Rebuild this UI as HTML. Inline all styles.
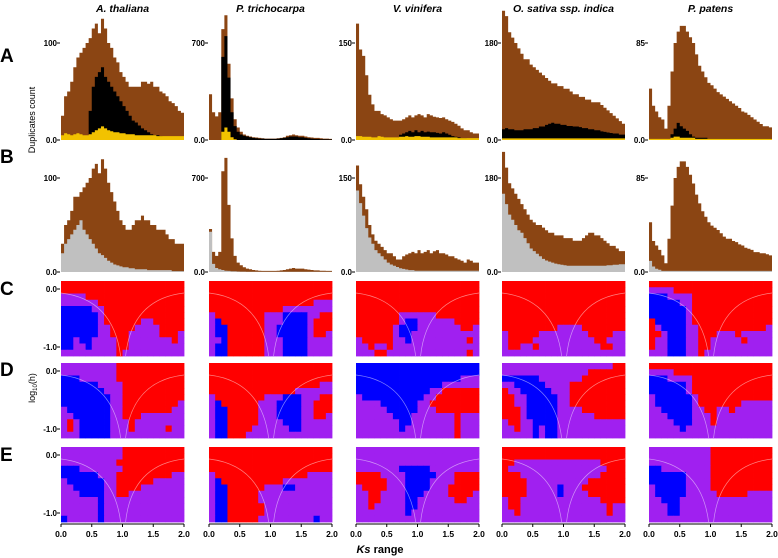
<!DOCTYPE html>
<html><head><meta charset="utf-8"><style>
body{margin:0;background:#fff;}
svg{display:block;font-family:"Liberation Sans","DejaVu Sans",sans-serif;}
</style></head><body>
<svg id="chart" width="778" height="558" viewBox="0 0 778 558" xmlns="http://www.w3.org/2000/svg"></svg>
<script>
const species = ["A. thaliana","P. trichocarpa","V. vinifera","O. sativa ssp. indica","P. patens"];
const tickVals = [100,700,150,180,85];
const xTicks = ["0.0","0.5","1.0","1.5","2.0"];
const aBrown = [
[25,45,50,60,75,85,90,95,100,105,115,120,110,125,115,100,95,85,80,70,65,60,55,55,55,55,60,60,58,60,55,55,50,48,45,40,38,35,30,28],
[330,200,170,200,800,900,550,300,150,90,60,40,30,25,20,18,15,12,10,10,10,10,12,15,20,30,35,40,35,30,30,25,20,18,15,15,12,10,10,8],
[180,140,130,100,70,55,45,45,40,38,35,32,30,30,30,32,35,38,35,38,40,38,35,40,38,36,35,34,35,32,30,28,25,22,18,15,15,12,10,10],
[240,230,200,190,180,170,160,150,150,140,135,130,125,120,115,110,105,105,100,100,95,95,90,85,85,80,80,75,75,70,70,70,65,60,55,50,45,40,35,30],
[45,30,25,20,18,10,30,60,85,95,100,100,95,90,85,75,65,60,55,50,48,45,42,40,38,36,34,32,30,28,25,24,22,20,18,16,14,12,12,11]];
const aBlack = [
[0,0,0,0,0,0,0,0,0,30,55,65,70,75,65,60,55,50,45,40,35,30,25,20,18,15,12,10,8,6,5,5,4,3,3,2,2,2,2,2],
[0,0,0,0,600,750,450,200,100,60,40,30,25,20,15,12,10,10,8,8,8,8,10,12,15,20,25,25,25,20,20,15,12,10,8,8,6,5,5,4],
[0,0,0,0,0,0,0,0,0,0,0,0,0,0,8,10,12,14,12,15,12,14,12,13,12,12,11,10,12,10,8,6,5,4,3,3,2,2,2,2],
[20,22,20,20,18,18,18,20,20,20,22,22,25,25,28,30,32,30,30,28,28,26,26,25,25,24,22,22,20,20,18,18,16,15,14,13,12,12,10,10],
[0,0,0,0,0,0,0,5,10,15,12,10,8,5,3,2,2,2,2,1,1,1,1,1,1,1,1,1,1,1,1,1,1,1,1,1,1,1,1,1]];
const aYellow = [
[5,7,6,5,6,7,6,5,5,6,8,10,12,14,12,10,9,8,8,7,7,6,6,6,5,5,5,5,5,5,5,4,4,4,4,4,4,4,4,4],
[0,0,0,0,60,90,60,20,5,0,0,0,0,0,0,0,0,0,0,0,0,0,0,0,0,0,0,0,0,0,0,0,0,0,0,0,0,0,0,0],
[6,6,5,5,5,4,4,6,5,4,4,4,4,4,5,5,6,5,5,6,6,5,5,5,4,4,4,4,4,4,4,4,4,3,3,3,3,3,3,3],
[3,3,3,3,3,3,3,3,3,3,3,3,3,3,3,3,3,3,3,3,3,3,3,3,3,3,3,3,3,3,3,3,3,3,3,3,3,3,3,3],
[1,1,1,1,1,1,1,2,3,3,2,2,2,2,2,1,1,1,1,1,1,1,1,1,1,1,1,1,1,1,1,1,1,1,1,1,1,1,1,1]];
const bBrown = [
[30,50,55,65,80,80,85,90,95,100,110,115,105,120,110,95,85,75,65,55,50,45,45,50,55,55,60,55,55,50,50,45,45,45,40,35,35,30,30,30],
[320,150,120,150,750,850,500,250,120,70,50,35,25,20,15,12,10,8,8,8,8,8,10,12,15,20,25,30,25,25,25,20,18,15,12,12,10,10,8,8],
[170,140,120,100,75,60,50,45,40,35,30,30,25,20,20,25,28,30,32,30,35,30,32,35,30,33,35,30,30,28,25,25,22,20,18,15,20,18,15,15],
[230,200,170,160,150,140,130,120,110,100,95,90,90,85,80,75,75,70,70,70,65,65,65,60,60,60,65,70,75,75,70,70,65,60,55,50,50,45,40,40],
[45,28,24,20,15,8,30,60,85,95,100,100,95,88,80,70,62,55,50,45,42,40,38,35,32,30,30,28,27,25,24,22,21,20,18,18,17,17,16,15]];
const bGray = [
[20,30,35,40,45,50,55,45,40,35,30,25,20,18,15,12,10,8,7,6,5,5,4,4,3,3,3,3,2,2,2,2,2,2,2,2,1,1,1,1],
[300,60,30,20,15,10,8,6,5,4,3,3,2,2,2,2,2,2,2,2,2,2,2,2,2,2,2,2,2,2,2,2,2,2,2,2,2,2,2,2],
[130,110,90,70,55,45,35,30,25,20,15,12,10,8,6,5,4,3,3,2,2,2,2,2,2,2,2,2,2,2,2,2,2,2,2,2,2,2,2,2],
[150,130,110,100,90,80,75,65,55,45,40,35,30,25,22,20,18,16,15,14,13,12,12,12,12,12,12,12,12,12,12,12,12,12,13,13,14,14,15,15],
[10,5,3,2,1,1,1,1,1,1,1,1,1,1,1,1,1,1,1,1,1,1,1,1,1,1,1,1,1,1,1,1,1,1,1,1,1,1,1,1]];
const heatC = [
["rrrrrrrrrrrrrrrrrrrr","rrrrrrrrrrrrrrrrrrrr","pppprrrrrrrrrrrrrrrr","pppppprrrrrrrrrrrrrr","bbbbbpprrrrrrrrrrrrr","bbbbbbprrrrrrrrrrrrr","bbbbbbprrrrrrpprrrrr","bbbbbbpprrrrpppprrrr","bbbbbbpprrrppppprrrp","bbpbbpppprrppppppprp","bbppbpppprrppppppppp","ppppppppprpppppppppp"],
["rrrrrrrrrrrrrrrrrrrr","rrrrrrrrrrrrrrrrrrrr","rrrrrrrrrrrrrrrrrrrr","rrrrrrrrrrrrrrrrrppp","rrrrrrrrrrrrpppppppp","prrrrrrrrpppbbbbpprr","pbrrrrrrrpppbbbbprrr","pbbrrrrrrppbbbbbprrr","pbbrrrrrrppbbbbbprrp","ppbrrrrrrpppbbbbpppp","pbbrrrrrrpppbbbbpppp","pbbrrrrrrpppbbbbpppp"],
["rrrrrrrrrrrrrrrrrrrr","rrrrrrrrrrrrrrrrrrrr","rrrrrrrrrrrrrrrrrrrr","rrrrrrrrrrrrrrrrrrrr","rrrrrrrrrrrrrrrrrrrr","rrrrrrrpppppprrrrrrr","rrrrrrrpbbpppppprrrr","rrrrrrpbbbppppppprrp","rrrrrrpbbppppppppppp","prrrrrppbppppppppprp","pprpprpppppppppppppp","ppprrppppppppppppprp"],
["rrrrrrrrrrrrrrrrrrrr","rrrrrrrrrrrrrrrrrrrr","rrrrrrrrrrrrrrrrrrrr","rrrrrrrrrrrrrrrrrrrr","rrrrrrrrrrrrrrrrrrrr","rrrrrrrrrrrrrrrrrrrr","rrrrrrrrrrrrrrrrrrrr","rrrrrrrrrpppprrrrrrr","prrrrrpppppppprrrrpp","prrrrpppppppppprrppp","prrpprpppppppppprrpp","pppppppppppppppppppp"],
["rrrrrrrrrrrrrrrrrrrr","pppprrrrrrrrrrrrrrrr","bbbpppprrrrrrrrrrrrr","bbbbbpprrrrrrrrrrrrr","bbbbbbprrrrrrrrrrrrr","bbbbbbprrrrrrrrrrrrr","rbbbbbprrrrrrrrrrrrr","rpbbbbpprrrrrrrrrrrp","rrpbbbpprrrppprppppp","rppbbbpprrppppprpppp","rppbbbpprrpppppppppp","pppbbbpprppppppppppp"]];
const heatD = [
["ppppppppprrrrrrrrrrr","ppppppppprrrrrrrrrrr","bbbpppppprrrrrrrrrrr","bbbbbbpppprrrrrrrrrr","bbbbbbbppprrrrrrrrrr","bbbbbbbbpprrrrrrrrrr","bbbbbbbbpprrrrrrrrrp","pbbbbbbbpprrrrrrrrpp","ppbbbbbbpprrrppppppp","prpbbbbbppprpppppppp","prpbbbbbppprppppprpp","pppbbbbbpppppppppppp"],
["rrrrrrrrrrrrrrrrrrrr","rrrrrrrrrrrrrrrrrrrr","rrrrrrrrrrrrrrrrrrrr","rrrrrrrrrrrrrrrrrrpp","rrrrrrrrrrrrrrpppppp","prrrrrrrrpppbbbppprr","pbrrrrrrpppbbbbpprrr","pbbrrrrrpppbbbbpprrr","pbbrrrrrpppbbbbpprrp","pbbrrrrrppppbbbppppp","pbbrrrrppppppbbppppp","pbbrrrpppppppppppppp"],
["bbbbbbbbbbbbbbbbbbbb","bbbbbbbbbbbbbbbbbbbb","bbbbbbbbbbbbbbbbbppp","bbbbbbbbbbbbbbpppppp","bbbbbbbbbbbbpprrrrrr","pbbbbbbbbbbpprrrrrrr","ppppbbbbbbpprrrrrrrr","pppppbbbbbppprrrrrrr","ppppppbbbppppppprppp","pppppppbbppppppprppp","pppppppbpppppppprppp","pppppppppppppppprppp"],
["pppppppppppppppppprr","pppppppppppppprrrrrr","bbbbbbppppppprrrrrrr","ppbbbbbpppprrrrrrrrr","rppbbbbbppprrrrrrrrr","rrppbbbbbpprrrrrrrrr","rrppbbbbbpprrrrrrrrr","rrrpbbbbbpppprrrrrrr","rrrpbbbbbpppppprrrrr","prrppbbbbppppppppppp","pprppbpbbppppppppppp","pppppbpbbppppppppppp"],
["rrrrrrrrrrrrrrrrrrrr","pppprrrrrrrrrrrrrrrr","bbbpppprrrrrrrrrrrrr","bbbbbbprrrrrrrrrrrrr","bbbbbbprrrrrrrrrrrrr","pbbbbbbprrrrrrrrrrrr","pbbbbbbprrrrrrrppppp","ppbbbbbpprrpprpppppp","pppbbbbppprppppppppp","ppppbbbppprppppppppp","pppppbpppppppppppppp","pppppppppppppppppppp"]];
const heatE = [
["pppppppppprrrrrrrrrr","pppppppppprrrrrrrrrr","ppppppppprrrrrrrrrrr","bbbppppppprrrrrrrrrr","bbbbbbppprrrrrrrrrpp","pbbbbbbpprrrrrrppppp","ppbbbbbpprrrrppppppp","pppbbbbpprrppppppppp","ppppppbppppppppppppp","ppppppbppppppppppppp","ppppppbppppppppppppp","bpppppbppppppppppppp"],
["rrrrrrrrrrrrrrrrrrrr","rrrrrrrrrrrrrrrrrrrr","rrrrrrrrrrrrrrrrrrrr","rrrrrrrrrrrrrrrrrrrr","prrrrrrrrrrrrrrrpppp","pbrrrrrrrrrrpppppppp","pbbrrrrrrpppbbpppppp","pbbrrrrrpppppppppppp","pbbrrrrrpppppppppppp","pbbrrrrrrppppppppppp","pbbrrrrrrppppppppppp","pbbrrrrrpppppppppbpp"],
["pppppppppppppppppppp","pppppppppppppppppppp","pppppppppppppppppppp","pppppppbbbbbpppppppp","rrrrppppbbbbbppprrrr","rrrrrpppbbbbpppprrrr","prrrrpppbbbbppprrrrr","pprrppppbbbpppprrrrp","pprrppppbbpppppprrpp","pprpppppbbpppppppppp","ppppppppbppppppppppp","pppppppppppppppppppp"],
["rrrrrrrrrrrrrrrrrrrr","rrrrrrrrrrrrrrrrrrrr","rrpppppppppppppprrrr","rpppppppppppppppprrr","rrrppppppppppppprrrr","rrrrpppppppppprrrrrr","rrrrpppppbppprrrrrrr","rrrrpppppbpppprrrrrr","prrppppppppppppprrrr","prrpppppppppppppprpp","pprpppppppppppppprpp","pppppppppppppppppppp"],
["pppppppppprrrrrrrrrr","pppppppppprrrrrrrrrr","pppppppppprrrrrrrrrr","bbpppppppprrrrrrrrrr","bbbbbbpppprrrrrrrrrr","bbbbbbpppprrrrrrrrrr","pbbbbbpppprrrrrrrrrr","pbbbbbppppprrrrrpppp","ppbbbppppppppppppppp","pppbbppppppppppppppp","pppbbppppppppppppppp","pppppppppppppppppppp"]];

const NS="http://www.w3.org/2000/svg";
const svg=document.getElementById('chart');
function mk(tag,attrs,parent){const e=document.createElementNS(NS,tag);for(const k in attrs)e.setAttribute(k,attrs[k]);(parent||svg).appendChild(e);return e;}
const colX=[61,209,356,502,649], PW=123;
const COLORS={r:"#ff0000",p:"#a020f0",b:"#0000ff"};
const xScale=(c,ks)=>colX[c]+ks/2*PW;

function histRow(c,base,tickY,series,colors,names){
  const sc=v=>base-(v/tickVals[c])*(base-tickY);
  series.forEach((arr,si)=>{
    const n=arr.length,bw=PW/n;
    let d="M"+colX[c]+","+base;
    arr.forEach((v,i)=>{const y=Math.max(sc(v),2);d+=" L"+(colX[c]+i*bw).toFixed(2)+","+y.toFixed(1)+" L"+(colX[c]+(i+1)*bw).toFixed(2)+","+y.toFixed(1);});
    d+=" L"+(colX[c]+PW)+","+base+" Z";
    const p=mk('path',{d:d,fill:colors[si]});
    
    
  });
  const lab=[["0.0",base],[String(tickVals[c]),tickY]];
  lab.forEach(([t,y])=>{
    mk('line',{x1:colX[c]-4,x2:colX[c]-1,y1:y,y2:y,stroke:"#000","stroke-width":1});
    const tx=mk('text',{x:colX[c]-4,y:y+3,"font-size":8,"font-weight":"bold","text-anchor":"end"});
    tx.textContent=t;
    
    
  });
}
function heat(c,top,grid){
  const rows=grid.length,cols=grid[0].length,cw=PW/cols,ch=75/rows;
  grid.forEach((row,ri)=>{for(let ci=0;ci<cols;ci++){
    const r=mk('rect',{x:(colX[c]+ci*cw).toFixed(2),y:(top+ri*ch).toFixed(2),width:(cw+0.4).toFixed(2),height:(ch+0.4).toFixed(2),fill:COLORS[row[ci]]});
    
    
  }});
  const arc1="M"+colX[c]+","+(top+12)+" Q"+xScale(c,0.85)+","+(top+18)+" "+xScale(c,0.97)+","+(top+75);
  const arc2="M"+xScale(c,1.05)+","+(top+75)+" Q"+xScale(c,1.15)+","+(top+18)+" "+(colX[c]+PW)+","+(top+12);
  [arc1,arc2].forEach(d=>{const a=mk('path',{d:d,fill:"none",stroke:"#fff","stroke-width":0.7,opacity:0.5});
    
    });
  if(c===0){
    [["0.0",top+8],["-1.0",top+66]].forEach(([t,y])=>{
      mk('line',{x1:colX[c]-4,x2:colX[c]-1,y1:y,y2:y,stroke:"#000","stroke-width":1});
      const tx=mk('text',{x:colX[c]-4,y:y+3,"font-size":8,"font-weight":"bold","text-anchor":"end"});
      tx.textContent=t;
      
      
    });
  }
}
for(let c=0;c<5;c++){
  const t=mk('text',{x:colX[c]+PW/2,y:12,"font-size":10.5,"font-weight":"bold","font-style":"italic","text-anchor":"middle"});
  t.textContent=species[c];
  
  
  histRow(c,140,43,[aBrown[c],aBlack[c],aYellow[c]],["#8b4513","#000","#f2c200"],["brown-histogram","black-histogram","yellow-histogram"]);
  histRow(c,272,178,[bBrown[c],bGray[c]],["#8b4513","#c0c0c0"],["brown-histogram","gray-histogram"]);
  heat(c,281,heatC[c]);heat(c,363,heatD[c]);heat(c,447,heatE[c]);
  mk('line',{x1:colX[c],x2:colX[c]+PW,y1:524,y2:524,stroke:"#000","stroke-width":1});
  xTicks.forEach((t,i)=>{
    const x=colX[c]+i/4*PW;
    mk('line',{x1:x,x2:x,y1:524,y2:527,stroke:"#000","stroke-width":1});
    const tx=mk('text',{x:x,y:537,"font-size":8.5,"font-weight":"bold","text-anchor":"middle"});
    tx.textContent=t;
    
    
  });
}
[["A",62],["B",163],["C",295],["D",376],["E",461]].forEach(([l,y])=>{
  const t=mk('text',{x:0,y:y,"font-size":19,"font-weight":"bold"});
  t.textContent=l;
  
  
});
const yl=mk('text',{x:35,y:120,"font-size":9,"text-anchor":"middle",transform:"rotate(-90 35 120)"});
yl.textContent="Duplicates count";


const yl2=mk('text',{x:35,y:388,"font-size":9,"text-anchor":"middle",transform:"rotate(-90 35 388)"});
yl2.innerHTML='log<tspan font-size="6" dy="2">10</tspan><tspan dy="-2">(h)</tspan>';


const xl=mk('text',{x:380,y:553,"font-size":11,"font-weight":"bold","text-anchor":"middle"});
xl.innerHTML='<tspan font-style="italic">Ks</tspan> range';


</script>
</body></html>
